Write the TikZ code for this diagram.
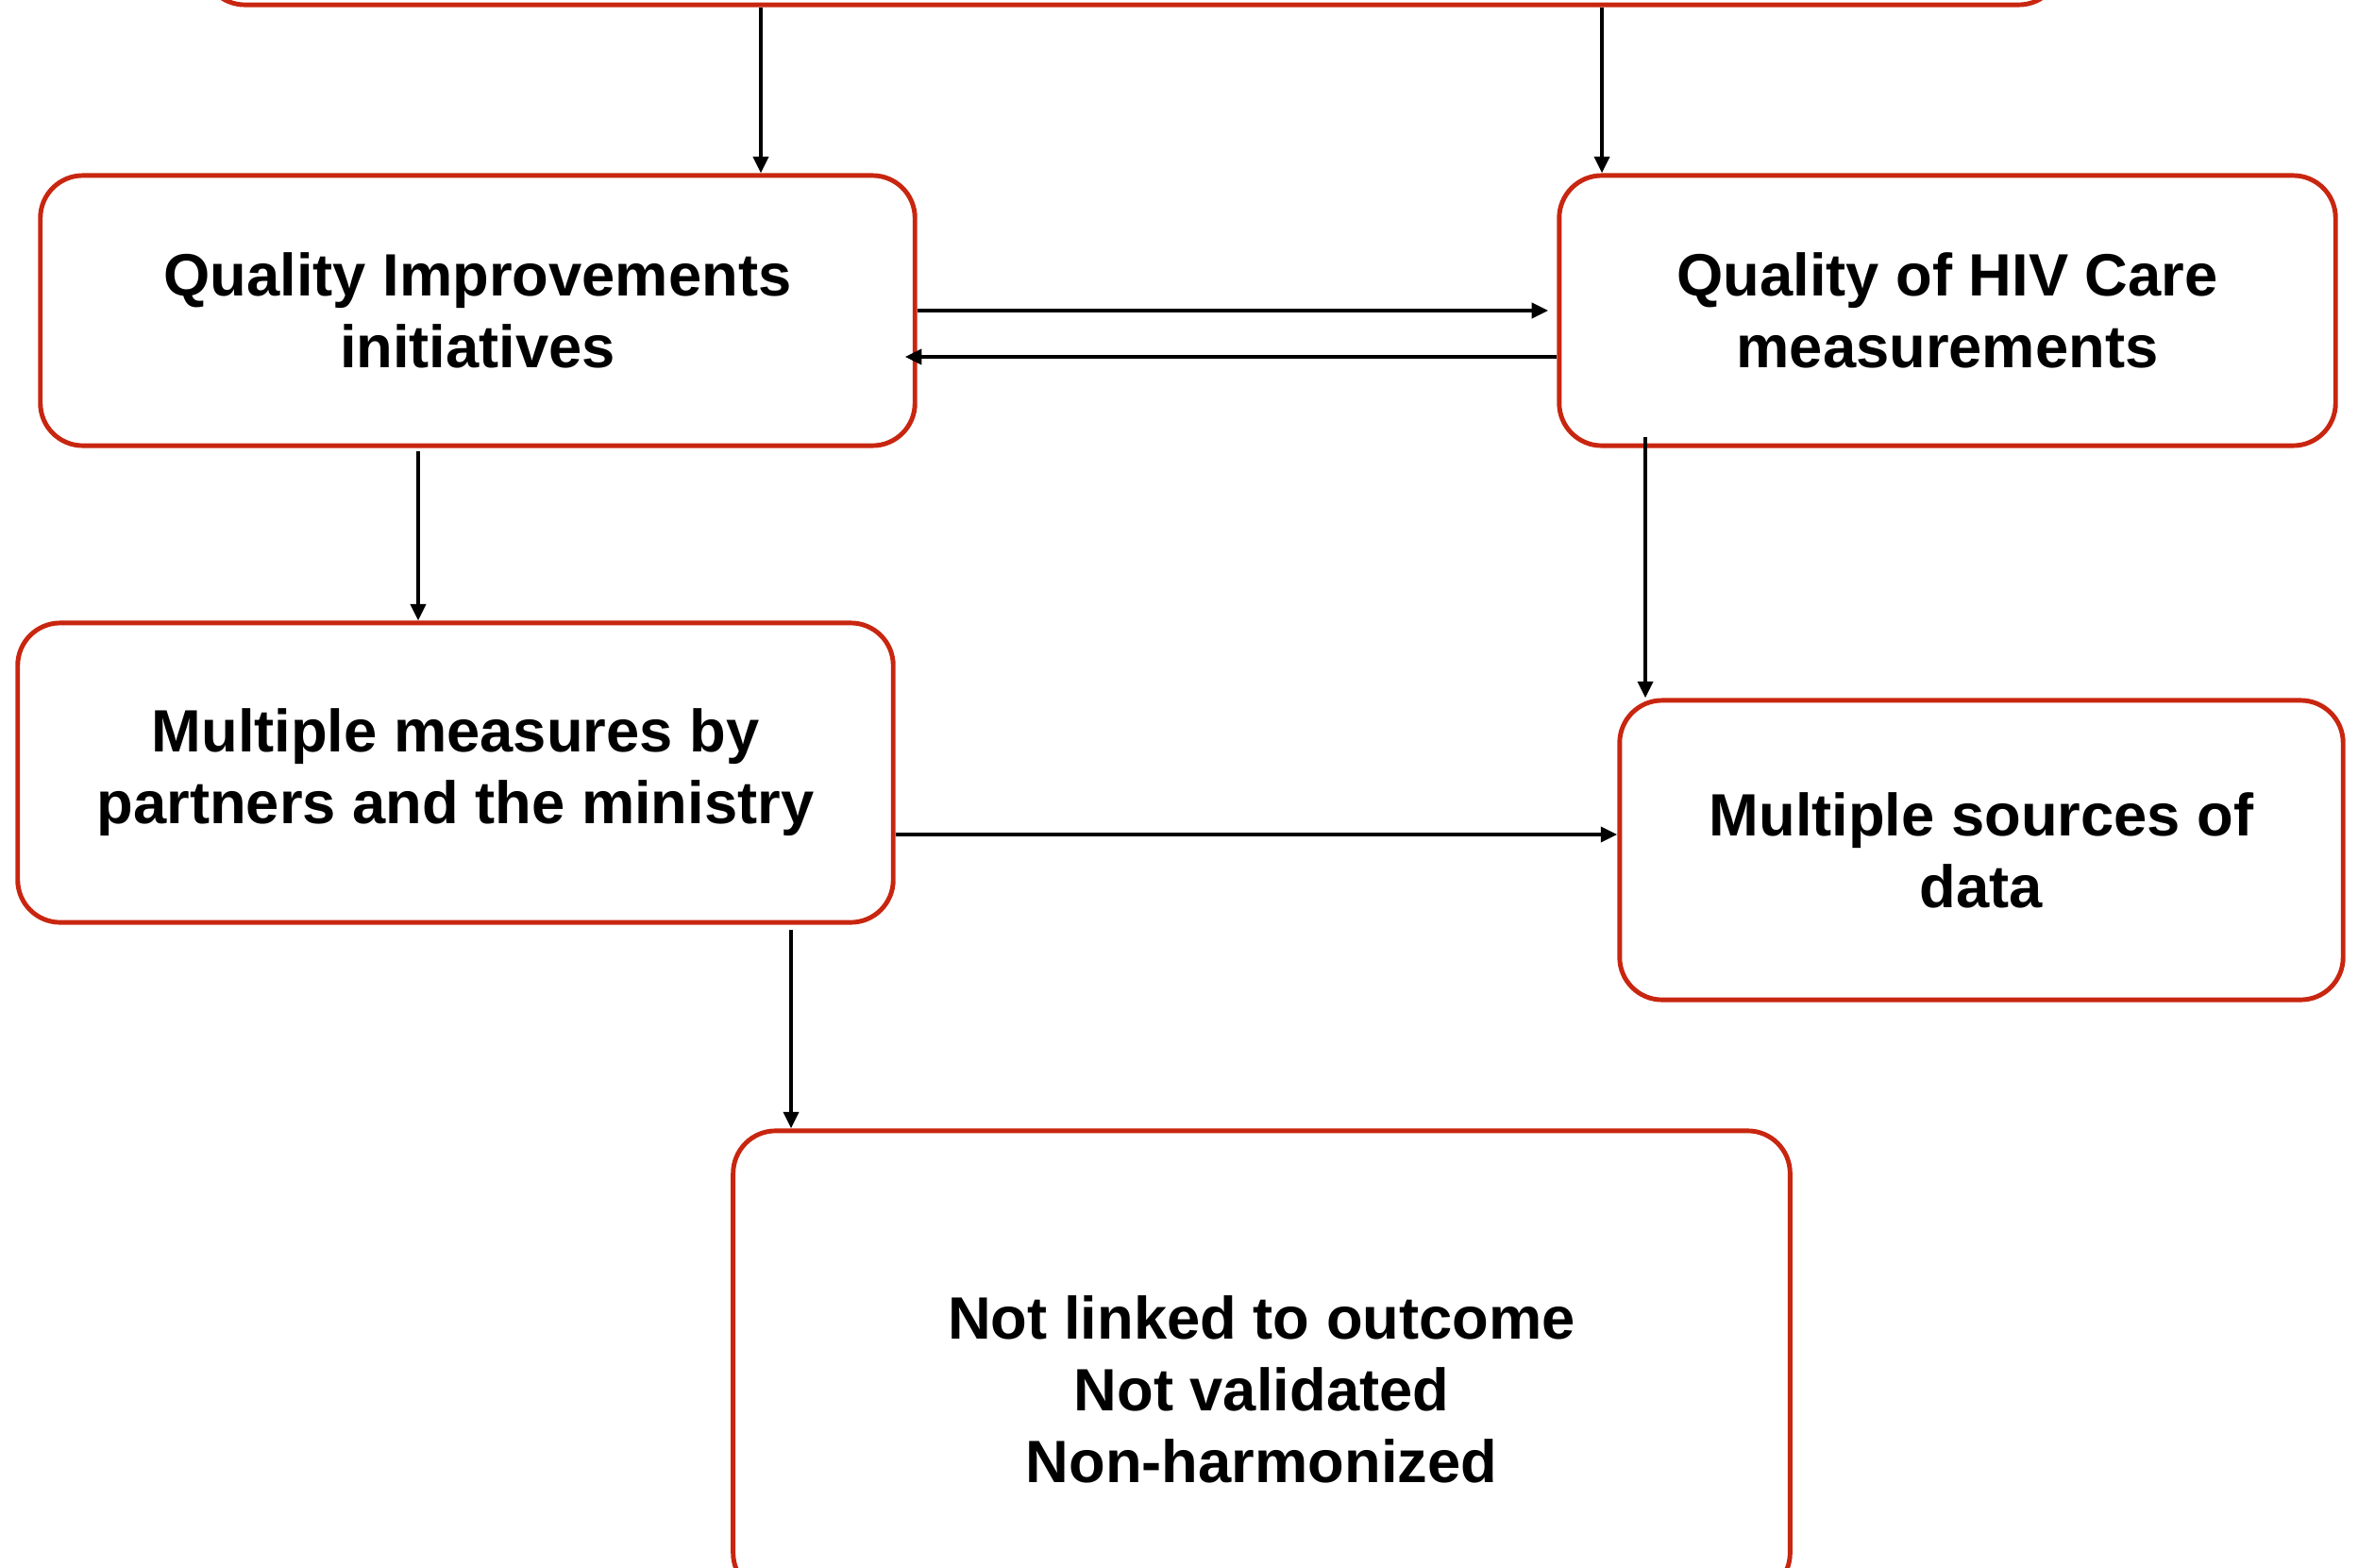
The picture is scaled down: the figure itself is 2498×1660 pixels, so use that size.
\documentclass[tikz,border=0pt]{standalone}
\usepackage{fontspec}
\setmainfont{Liberation Sans}
\usetikzlibrary{arrows.meta}
\definecolor{boxred}{RGB}{200,38,16}
\begin{document}
\begin{tikzpicture}[x=0.01cm,y=-0.01cm,
  box/.style={draw=boxred, line width=1.4pt, rounded corners=0.45cm, fill=white,
    align=center, inner sep=0pt, font=\bfseries\fontsize{18}{21.6}\selectfont},
  txt/.style={align=center, inner sep=0pt, font=\bfseries\fontsize{18}{21.6}\selectfont},
  conn/.style={-{Triangle[length=5pt,width=4.5pt]}, line width=1.2pt}]
\useasboundingbox (0,0) rectangle (2498,1660);
\node[box, minimum width=19.68cm, minimum height=3.05cm] (top) at (1199,-147.5) {};
\node[box, minimum width=9.26cm, minimum height=2.86cm] (qi) at (506,329)
  {Quality Improvements\\initiatives};
\node[box, minimum width=8.22cm, minimum height=2.86cm] (qh) at (2063,329)
  {Quality of HIV Care\\measurements};
\node[box, minimum width=9.27cm, minimum height=3.17cm] (mm) at (482.5,818.5)
  {Multiple measures by\\partners and the ministry};
\node[box, minimum width=7.66cm, minimum height=3.17cm] (ms) at (2099,900.5)
  {Multiple sources of\\data};
\node[box, minimum width=11.19cm, minimum height=4.92cm] (bot) at (1336.5,1444) {};
\node[txt] (bottxt) at (1336.5,1472) {Not linked to outcome\\Not validated\\Non-harmonized};
% connectors
\draw[conn] (806,0 |- top.south) -- (806,0 |- qi.north);
\draw[conn] (1697,0 |- top.south) -- (1697,0 |- qh.north);
\draw[conn, shorten >=0.09cm] (qi.east) -- (qh.west);
\draw[conn, shorten >=-0.13cm] ([yshift=-0.49cm]qh.west) -- ([yshift=-0.49cm]qi.east);
\draw[conn, shorten <=0.03cm] (443,0 |- qi.south) -- (443,0 |- mm.north);
\draw[conn, shorten <=-0.12cm] (1743,0 |- qh.south) -- (1743,0 |- ms.north);
\draw[conn] (mm.east |- 0,884) -- (ms.west |- 0,884);
\draw[conn, shorten <=0.05cm] (838,0 |- mm.south) -- (838,0 |- bot.north);
\end{tikzpicture}
\end{document}
